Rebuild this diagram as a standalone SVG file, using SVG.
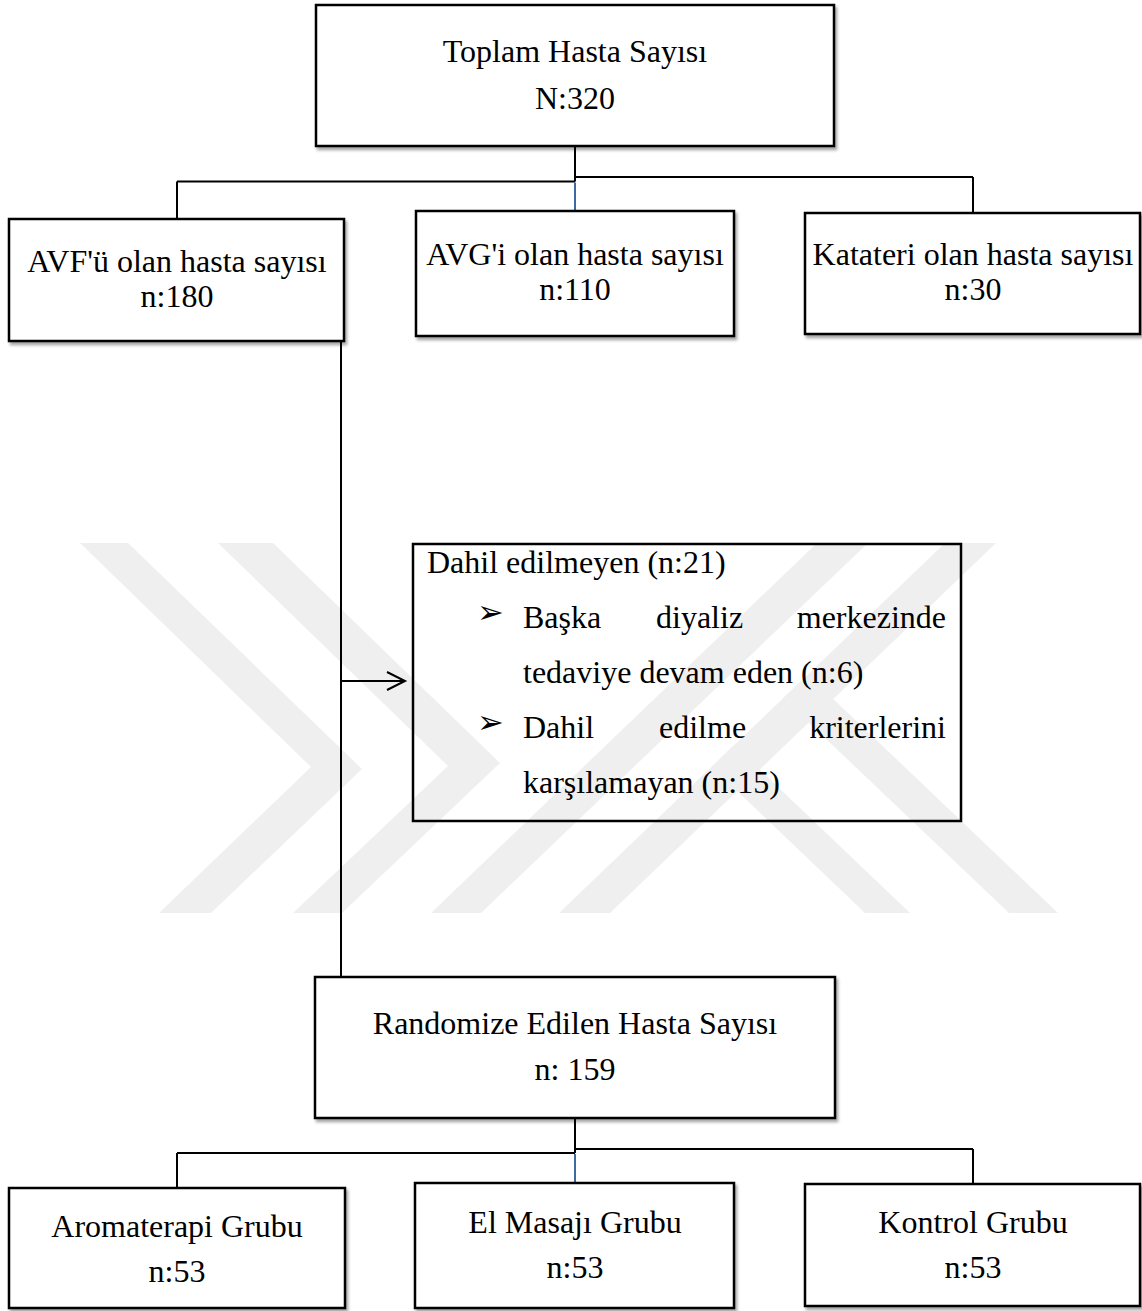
<svg xmlns="http://www.w3.org/2000/svg" width="1142" height="1311" viewBox="0 0 1142 1311">
  <defs>
    <filter id="sh" x="-5%" y="-5%" width="112%" height="115%">
      <feDropShadow dx="2" dy="3" stdDeviation="1.5" flood-color="#000" flood-opacity="0.35"/>
    </filter>
    <style>
      .box { fill: #ffffff; stroke: #000; stroke-width: 2.5; }
      .plain { fill: none; stroke: #000; stroke-width: 2.5; }
      .t { font-family: "Liberation Serif", "Times New Roman", serif; font-size: 32px; fill: #000; }
      .c { text-anchor: middle; }
      .bul { font-family: "DejaVu Sans", sans-serif; font-size: 32px; font-weight: bold; fill: #000; }
      .ln { fill: none; stroke: #000; stroke-width: 2; }
      .blue { fill: none; stroke: #3d6aa3; stroke-width: 2; }
      .wm { fill: #efefef; }
    </style>
  </defs>
  <rect width="1142" height="1311" fill="#ffffff"/>

  <g id="watermark">
    <polygon class="wm" points="80,543 128,543 362,769 211,913 159,913 311,767"/>
    <polygon class="wm" points="218,543 273,543 500,763 342,913 293,913 448,766"/>
    <polygon class="wm" points="817,543 868,543 481,913 431,913"/>
    <polygon class="wm" points="945,543 996,543 610,913 559,913"/>
    <polygon class="wm" points="712,767 734,745 910,913 865,913"/>
    <polygon class="wm" points="783,698 808,675 1058,913 1009,913"/>
  </g>

  <g id="connectors">
    <path class="ln" d="M575 146 V181.5 M177 181.5 H575 M575 177 H973 M973 177 V213 M177 181.5 V219"/>
    <path class="blue" d="M575 182.5 V211"/>
    <path class="ln" d="M341 341 V977"/>
    <path class="ln" d="M341 681 H404"/>
    <polyline class="ln" points="387,672 405,681 387,690" stroke-width="1.8"/>
    <path class="ln" d="M575 1118 V1153 M177 1153 H575 M575 1149 H973 M973 1149 V1184 M177 1153 V1188"/>
    <path class="blue" d="M575 1154 V1183"/>
  </g>

  <g id="n-total">
    <rect class="box" x="316" y="5" width="518" height="141" filter="url(#sh)"/>
    <text class="t c" x="575" y="62">Toplam Hasta Sayısı</text>
    <text class="t c" x="575" y="109">N:320</text>
  </g>

  <g id="n-avf">
    <rect class="box" x="9" y="219" width="335" height="122" filter="url(#sh)"/>
    <text class="t c" x="177" y="272">AVF'ü olan hasta sayısı</text>
    <text class="t c" x="177" y="307">n:180</text>
  </g>

  <g id="n-avg">
    <rect class="box" x="416" y="211" width="318" height="125" filter="url(#sh)"/>
    <text class="t c" x="575" y="265">AVG'i olan hasta sayısı</text>
    <text class="t c" x="575" y="300">n:110</text>
  </g>

  <g id="n-kateter">
    <rect class="box" x="805" y="213" width="335" height="121" filter="url(#sh)"/>
    <text class="t c" x="973" y="265">Katateri olan hasta sayısı</text>
    <text class="t c" x="973" y="300">n:30</text>
  </g>

  <g id="n-excluded">
    <rect class="plain" x="413" y="544" width="548" height="277"/>
    <text class="t" x="427" y="573">Dahil edilmeyen (n:21)</text>
    <text class="bul" x="477" y="623">➢</text>
    <text class="t" x="523" y="628">Başka</text>
    <text class="t" x="656" y="628">diyaliz</text>
    <text class="t" x="946" y="628" text-anchor="end">merkezinde</text>
    <text class="t" x="523" y="683">tedaviye devam eden (n:6)</text>
    <text class="bul" x="477" y="733">➢</text>
    <text class="t" x="523" y="738">Dahil</text>
    <text class="t" x="659" y="738">edilme</text>
    <text class="t" x="946" y="738" text-anchor="end">kriterlerini</text>
    <text class="t" x="523" y="793">karşılamayan (n:15)</text>
  </g>

  <g id="n-random">
    <rect class="box" x="315" y="977" width="520" height="141" filter="url(#sh)"/>
    <text class="t c" x="575" y="1034">Randomize Edilen Hasta Sayısı</text>
    <text class="t c" x="575" y="1080">n: 159</text>
  </g>

  <g id="n-aroma">
    <rect class="box" x="9" y="1188" width="336" height="120" filter="url(#sh)"/>
    <text class="t c" x="177" y="1237">Aromaterapi Grubu</text>
    <text class="t c" x="177" y="1282">n:53</text>
  </g>

  <g id="n-masaj">
    <rect class="box" x="415" y="1183" width="319" height="125" filter="url(#sh)"/>
    <text class="t c" x="575" y="1233">El Masajı Grubu</text>
    <text class="t c" x="575" y="1278">n:53</text>
  </g>

  <g id="n-kontrol">
    <rect class="box" x="805" y="1184" width="335" height="122" filter="url(#sh)"/>
    <text class="t c" x="973" y="1233">Kontrol Grubu</text>
    <text class="t c" x="973" y="1278">n:53</text>
  </g>
</svg>
